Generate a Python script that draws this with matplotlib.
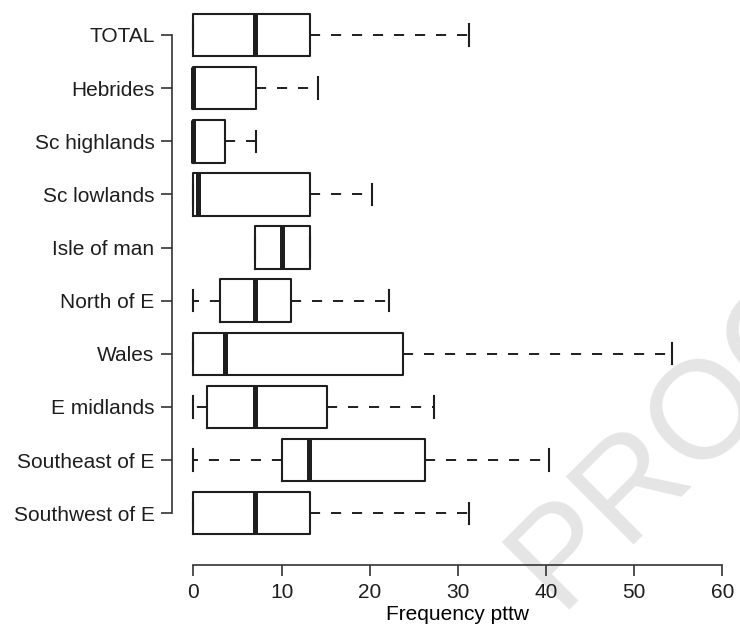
import matplotlib
matplotlib.use("Agg")
import matplotlib.pyplot as plt

plt.rcParams['font.family'] = ['Liberation Sans', 'DejaVu Sans']

# regions, top to bottom as drawn
regions = ['TOTAL', 'Hebrides', 'Sc highlands', 'Sc lowlands', 'Isle of man',
           'North of E', 'Wales', 'E midlands', 'Southeast of E', 'Southwest of E']
# five number summaries (frequency pttw)
whisk_lo = [0, 0, 0, 0, 7, 0, 0, 0, 0, 0]
q1 = [0, 0, 0, 0, 7, 3, 0, 1.5, 10, 0]
median = [7, 0, 0, 0.5, 10, 7, 3.6, 7, 13.1, 7]
q3 = [13.2, 7.1, 3.6, 13.2, 13.2, 11.1, 23.8, 15.2, 26.3, 13.2]
whisk_hi = [31.3, 14.1, 7.1, 20.3, 13.2, 22.2, 54.3, 27.3, 40.3, 31.3]

xticks = [0, 10, 20, 30, 40, 50, 60]

fig = plt.figure(figsize=(7.4, 6.3), dpi=100)
# faint watermark behind the plot
fig.text(0.955, 0.35, 'PROOF', rotation=45, fontsize=100, color='#e5e5e5',
         ha='center', va='center', zorder=-5)

ax = fig.add_axes([172.3 / 740, 65 / 630, (743.4 - 172.3) / 740, (626.9 - 65) / 630])
ax.patch.set_alpha(0)

pos = list(range(len(regions), 0, -1))
stats = []
for i, name in enumerate(regions):
    stats.append(dict(label=name, whislo=whisk_lo[i], q1=q1[i], med=median[i],
                      q3=q3[i], whishi=whisk_hi[i]))

ink = '#1e1e1e'
ax.bxp(stats, positions=pos, orientation='horizontal', widths=0.8, capwidths=0.4,
       showfliers=False,
       boxprops=dict(color=ink, lw=1.5),
       whiskerprops=dict(color=ink, lw=1.4, linestyle=(0, (5.2, 5.6))),
       capprops=dict(color=ink, lw=1.5),
       medianprops=dict(color=ink, lw=3.6, solid_capstyle='butt'))

ax.set_xlim(-2.4, 62.4)
ax.set_ylim(0.026, 10.6)
ax.set_yticks(pos)
ax.set_yticklabels(regions)
ax.set_xticks(xticks)
ax.set_xticklabels([str(t) for t in xticks])
ax.set_xlabel('Frequency pttw', fontsize=15, labelpad=2)

for s in ['top', 'right']:
    ax.spines[s].set_visible(False)
ax.spines['left'].set_bounds(1, len(regions))
ax.spines['bottom'].set_bounds(0, 60)
for s in ['left', 'bottom']:
    ax.spines[s].set_color('#333333')
    ax.spines[s].set_linewidth(1.2)
ax.tick_params(direction='out', length=7.8, width=1.2, color='#333333',
               labelsize=15, labelcolor='#1e1e1e')
ax.tick_params(axis='y', pad=5)
ax.tick_params(axis='x', pad=5)

fig.savefig('out.png', dpi=100)
